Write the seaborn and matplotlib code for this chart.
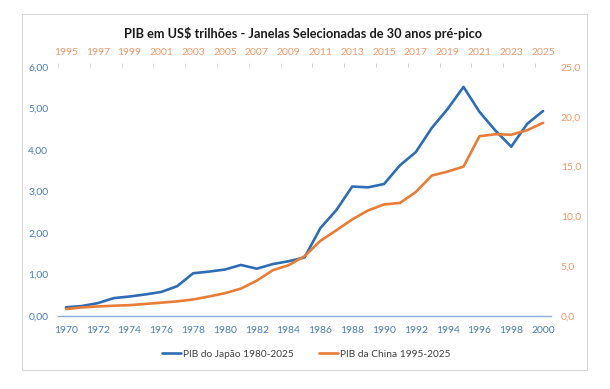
import numpy as np
import pandas as pd
import matplotlib
matplotlib.use('Agg')
import matplotlib.pyplot as plt
import seaborn as sns
from matplotlib.ticker import FuncFormatter, FixedLocator
from matplotlib.patches import Rectangle

# dados (US$ trilhoes)
japan_years = list(range(1970, 2001))
japan_gdp = [0.21, 0.24, 0.31, 0.43, 0.47, 0.52, 0.58, 0.72, 1.03, 1.07, 1.12,
             1.23, 1.14, 1.25, 1.32, 1.41, 2.12, 2.55, 3.12, 3.10, 3.18,
             3.63, 3.95, 4.53, 4.99, 5.52, 4.92, 4.47, 4.08, 4.63, 4.94]
china_years = list(range(1995, 2026))
china_gdp = [0.70, 0.86, 0.96, 1.03, 1.09, 1.21, 1.34, 1.47, 1.66, 1.96, 2.29,
             2.75, 3.55, 4.59, 5.10, 6.00, 7.55, 8.60, 9.70, 10.60, 11.20,
             11.35, 12.45, 14.10, 14.50, 15.00, 18.05, 18.25, 18.20, 18.65, 19.40]

df_jp = pd.DataFrame({'ano': japan_years, 'pib': japan_gdp})
df_cn = pd.DataFrame({'ano': china_years, 'pib': china_gdp})

sns.set_style('white')
plt.rcParams['font.family'] = ['Lato', 'DejaVu Sans']

BLUE = '#2E6DB4'
ORANGE = '#E97C36'
BLUE_TXT = '#4A7EBB'
ORANGE_TXT = '#EE9A6A'

fig = plt.figure(figsize=(6.10, 3.89), dpi=100)
pos = [58/610, 1-316/389, (551-58)/610, (316-67)/389]
ax = fig.add_axes(pos)
ax2 = fig.add_axes(pos, frameon=False)

sns.lineplot(data=df_jp, x='ano', y='pib', ax=ax, color=BLUE, linewidth=1.9,
             label='PIB do Japão 1980-2025', legend=False)
sns.lineplot(data=df_cn, x='ano', y='pib', ax=ax2, color=ORANGE, linewidth=1.9,
             label='PIB da China 1995-2025', legend=False)

# eixo principal
ax.set_xlim(1969.5, 2000.5)
ax.set_ylim(0, 6)
ax.set_xticks(japan_years[::2])
ax.set_yticks(np.arange(0, 7, 1))
ax.yaxis.set_major_formatter(FuncFormatter(lambda v, p: f'{v:.2f}'.replace('.', ',')))
ax.tick_params(axis='both', length=0, labelsize=7.5, colors=BLUE_TXT, pad=7)
for s in ['top', 'right', 'left']:
    ax.spines[s].set_visible(False)
ax.spines['bottom'].set_color('#8EAADB')
ax.spines['bottom'].set_linewidth(1.0)
ax.set_xlabel('')
ax.set_ylabel('')

# eixo secundario
ax2.set_xlim(1994.5, 2025.5)
ax2.set_ylim(0, 25)
ax2.xaxis.tick_top()
ax2.yaxis.tick_right()
ax2.set_xticks(china_years[::2])
ax2.xaxis.set_minor_locator(FixedLocator(np.arange(1994.5, 2026, 2)))
ax2.set_yticks(np.arange(0, 26, 5))
ax2.yaxis.set_major_formatter(FuncFormatter(lambda v, p: f'{v:.1f}'.replace('.', ',')))
ax2.tick_params(axis='both', which='major', length=0, labelsize=7.5, colors=ORANGE_TXT, pad=7)
ax2.tick_params(axis='x', which='minor', length=3, color='#D0D0D0', direction='out')
ax2.spines['top'].set_visible(True)
ax2.spines['top'].set_color('#D9D9D9')
ax2.spines['top'].set_linewidth(0.8)
ax2.set_xlabel('')
ax2.set_ylabel('')
ax2.patch.set_visible(False)

fig.text(0.497, 1-33/389, 'PIB em US$ trilhões - Janelas Selecionadas de 30 anos pré-pico',
         ha='center', va='center', fontsize=9.2, fontweight='bold', color='#1A1A1A')

h1, l1 = ax.get_legend_handles_labels()
h2, l2 = ax2.get_legend_handles_labels()
fig.legend(h1 + h2, l1 + l2, loc='center', bbox_to_anchor=(0.502, 1-354/389), ncol=2,
           frameon=False, fontsize=7.3, handlelength=1.9, handletextpad=0.2,
           columnspacing=2.4, labelcolor='#404040')

fig.patches.append(Rectangle((22/610, 1-370/389), 565/610, 356/389, transform=fig.transFigure,
                             fill=False, edgecolor='#D9D9D9', linewidth=0.8))

fig.savefig('out.png', dpi=100, facecolor='white')
